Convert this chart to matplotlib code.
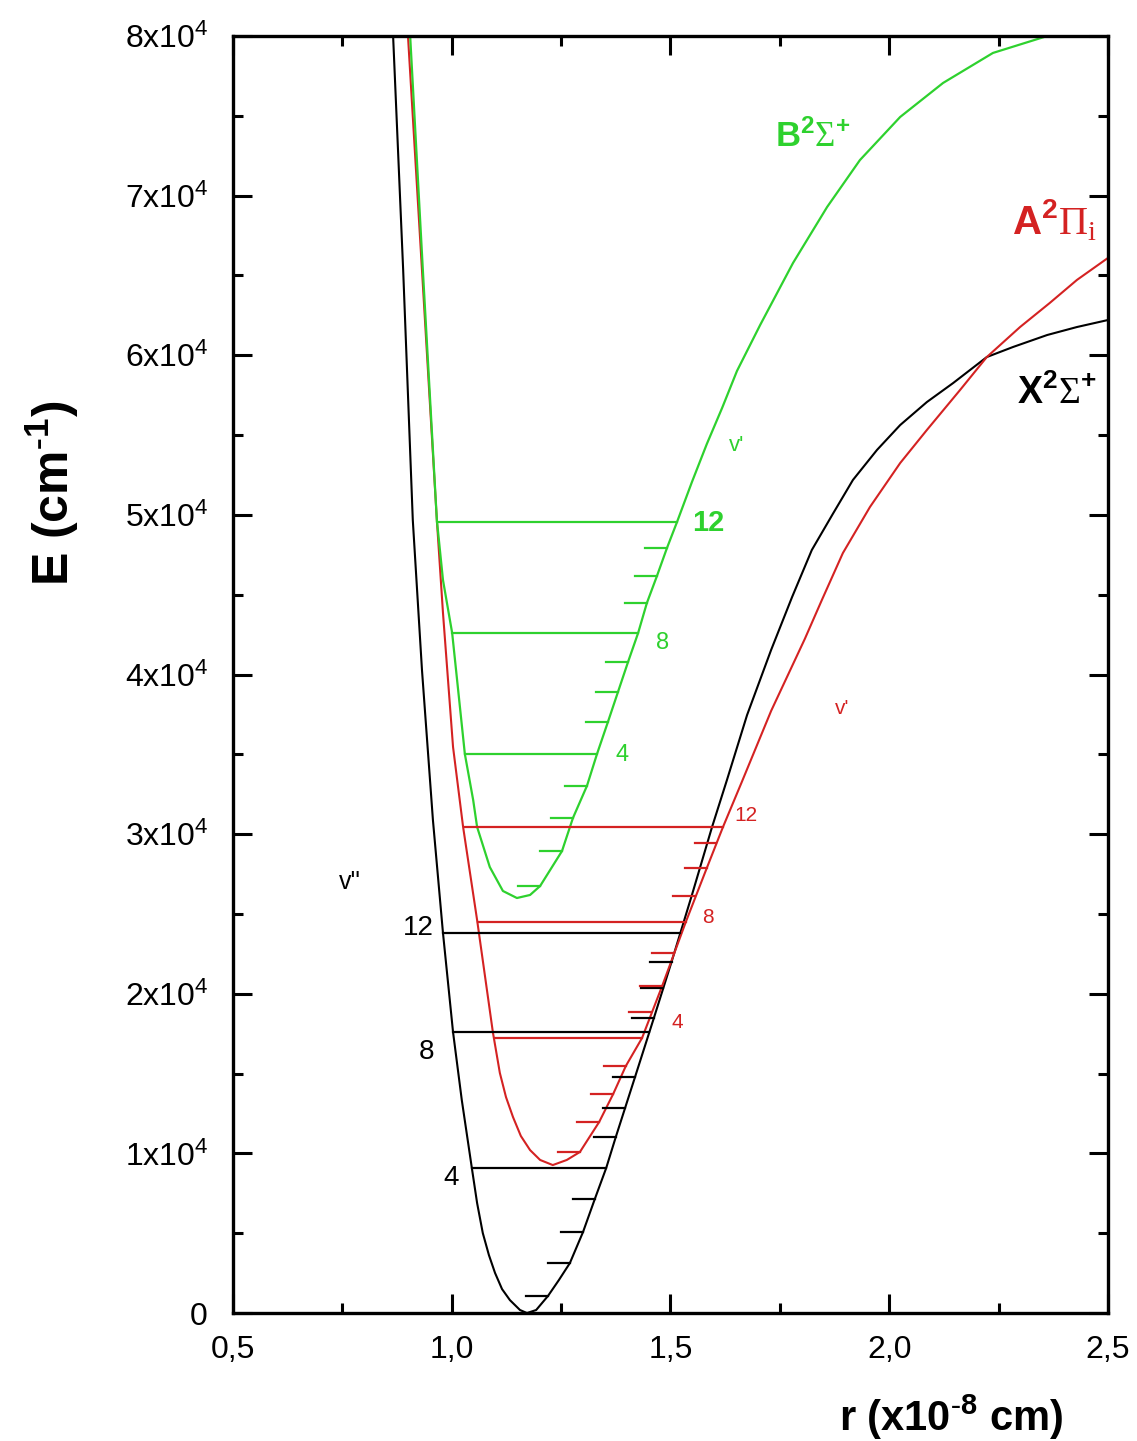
import matplotlib
matplotlib.use("Agg")
import matplotlib.pyplot as plt
from matplotlib.ticker import MultipleLocator

plt.rcParams['font.family'] = ['Liberation Sans', 'DejaVu Sans']
plt.rcParams['mathtext.fontset'] = 'custom'
plt.rcParams['mathtext.rm'] = 'Liberation Serif'
plt.rcParams['mathtext.it'] = 'Liberation Serif:italic'
plt.rcParams['mathtext.bf'] = 'Liberation Sans:bold'
plt.rcParams['mathtext.sf'] = 'Liberation Sans'
plt.rcParams['mathtext.default'] = 'regular'

# potential curves, r in 1e-8 cm, E in cm-1
x_r = [0.866, 0.889, 0.911, 0.932, 0.957, 0.980, 1.003, 1.023, 1.046, 1.058, 1.071, 1.085,
       1.099, 1.115, 1.133, 1.156, 1.172, 1.193, 1.220, 1.245, 1.270, 1.300, 1.327, 1.353,
       1.375, 1.419, 1.462, 1.503, 1.549, 1.595, 1.629, 1.675, 1.730, 1.778, 1.823, 1.871,
       1.917, 1.972, 2.025, 2.086, 2.146, 2.223, 2.283, 2.361, 2.429, 2.500]
x_E = [80000, 65340, 49680, 40280, 30890, 23810, 17600, 13340, 9080, 6890, 5010, 3630,
       2510, 1500, 810, 190, 0, 190, 1070, 2070, 3130, 5070, 7140, 9080,
       11030, 14790, 18480, 22050, 26190, 30450, 33390, 37460, 41540, 44860, 47800, 50060,
       52190, 54070, 55630, 57070, 58260, 59890, 60520, 61270, 61770, 62210]

a_r = [0.900, 0.932, 0.966, 0.980, 1.003, 1.026, 1.058, 1.094, 1.110, 1.124, 1.140, 1.158,
       1.179, 1.202, 1.231, 1.263, 1.293, 1.337, 1.369, 1.398, 1.435, 1.481, 1.535, 1.583,
       1.620, 1.663, 1.730, 1.807, 1.846, 1.894, 1.956, 2.025, 2.086, 2.162, 2.223, 2.299,
       2.367, 2.429, 2.500]
a_E = [80000, 65340, 49680, 43860, 35460, 30450, 24620, 17600, 15040, 13530, 12280, 11090,
       10210, 9590, 9270, 9590, 10090, 11970, 13720, 15480, 17230, 20490, 24500, 27880,
       30450, 33270, 37720, 42230, 44670, 47610, 50500, 53250, 55320, 57830, 59890, 61770,
       63280, 64720, 66100]

b_r = [0.905, 0.934, 0.966, 0.980, 1.001, 1.030, 1.049, 1.058, 1.087, 1.117, 1.149, 1.179,
       1.202, 1.252, 1.277, 1.309, 1.332, 1.357, 1.380, 1.403, 1.426, 1.446, 1.469, 1.492,
       1.515, 1.549, 1.583, 1.618, 1.652, 1.705, 1.780, 1.858, 1.933, 2.025, 2.123, 2.237,
       2.361]
b_E = [80000, 65340, 49680, 45920, 42600, 35020, 32140, 30450, 27940, 26440, 26000, 26190,
       26750, 28940, 31010, 33020, 35020, 37030, 38910, 40790, 42600, 44480, 46170, 47930,
       49560, 52060, 54440, 56700, 59020, 61900, 65780, 69290, 72230, 74930, 77060, 78940,
       80000]

# vibrational levels v = 0..12: energy and outer turning point
x_lev_E = [1070, 3110, 5090, 7120, 9100, 11050, 12860, 14800, 17620, 18460, 20340, 22010, 23790]
x_lev_r = [1.220, 1.270, 1.300, 1.327, 1.353, 1.375, 1.396, 1.419, 1.452, 1.462, 1.483, 1.503, 1.522]
x_full_left = {4: 1.046, 8: 1.003, 12: 0.980}

a_lev_E = [10110, 11980, 13720, 15480, 17210, 18840, 20490, 22540, 24510, 26130, 27860, 29430, 30430]
a_lev_r = [1.293, 1.337, 1.369, 1.398, 1.435, 1.456, 1.481, 1.508, 1.535, 1.556, 1.583, 1.605, 1.620]
a_full_left = {4: 1.099, 8: 1.060, 12: 1.030}

b_lev_E = [26750, 28940, 30990, 33040, 35020, 37010, 38920, 40800, 42580, 44460, 46170, 47910, 49580]
b_lev_r = [1.202, 1.252, 1.277, 1.309, 1.332, 1.357, 1.380, 1.403, 1.426, 1.446, 1.469, 1.492, 1.515]
b_full_left = {4: 1.030, 8: 1.001, 12: 0.966}

x_ticks = [0.5, 1.0, 1.5, 2.0, 2.5]
x_ticklabels = ['0,5', '1,0', '1,5', '2,0', '2,5']
y_ticks = [0, 10000, 20000, 30000, 40000, 50000, 60000, 70000, 80000]
y_ticklabels = ['0'] + ['$%dx10^{4}$' % k for k in range(1, 9)]

black = 'black'
red = '#d42222'
green = '#2ed12e'
tick_len = 0.05

fig = plt.figure(figsize=(11.37, 14.41), dpi=100)
ax = fig.add_axes([0.2049, 0.0888, 0.7696, 0.8862])


def draw_levels(lev_E, lev_r, full_left, color):
    for v in range(len(lev_E)):
        left = full_left.get(v, lev_r[v] - tick_len)
        ax.plot([left, lev_r[v]], [lev_E[v], lev_E[v]], color=color, lw=1.6)


ax.plot(x_r, x_E, color=black, lw=1.5)
ax.plot(a_r, a_E, color=red, lw=1.5)
ax.plot(b_r, b_E, color=green, lw=1.6)
draw_levels(x_lev_E, x_lev_r, x_full_left, black)
draw_levels(a_lev_E, a_lev_r, a_full_left, red)
draw_levels(b_lev_E, b_lev_r, b_full_left, green)

# level numbers
ax.text(0.923, 24120, '12', color=black, fontsize=20, ha='center', va='center')
ax.text(0.943, 16350, '8', color=black, fontsize=20, ha='center', va='center')
ax.text(0.998, 8460, '4', color=black, fontsize=20, ha='center', va='center')
ax.text(0.767, 27000, "v''", color=black, fontsize=18, ha='center', va='center')

ax.text(1.586, 49490, '12', color=green, fontsize=21, fontweight='bold', ha='center', va='center')
ax.text(1.483, 41980, '8', color=green, fontsize=17, ha='center', va='center')
ax.text(1.389, 34960, '4', color=green, fontsize=17, ha='center', va='center')
ax.text(1.652, 54320, "v'", color=green, fontsize=16, ha='center', va='center')

ax.text(1.673, 31200, '12', color=red, fontsize=15, ha='center', va='center')
ax.text(1.586, 24810, '8', color=red, fontsize=15, ha='center', va='center')
ax.text(1.515, 18230, '4', color=red, fontsize=15, ha='center', va='center')
ax.text(1.892, 37900, "v'", color=red, fontsize=15, ha='center', va='center')

# state labels
ax.text(1.739, 73680, r'$\mathbf{B}^{2}\mathrm{\Sigma}^{+}$', color=green, fontsize=25,
        fontweight='bold', ha='left', va='center')
ax.text(2.281, 68480, r'$\mathbf{A}^{2}\mathrm{\Pi}_{\mathrm{i}}$', color=red, fontsize=29,
        fontweight='bold', ha='left', va='center')
ax.text(2.292, 57640, r'$\mathbf{X}^{2}\mathrm{\Sigma}^{+}$', color=black, fontsize=27,
        fontweight='bold', ha='left', va='center')

ax.set_xlim(0.5, 2.5)
ax.set_ylim(0, 80000)
ax.set_xticks(x_ticks)
ax.set_xticklabels(x_ticklabels)
ax.set_yticks(y_ticks)
ax.set_yticklabels(y_ticklabels)
ax.xaxis.set_minor_locator(MultipleLocator(0.25))
ax.yaxis.set_minor_locator(MultipleLocator(5000))
ax.tick_params(which='both', direction='in', top=True, right=True, width=2.2)
ax.tick_params(which='major', length=14)
ax.tick_params(which='minor', length=7)
ax.tick_params(axis='x', which='major', labelsize=23, pad=16)
ax.tick_params(axis='y', which='major', labelsize=23, pad=18)
for s in ax.spines.values():
    s.set_linewidth(2.4)

ax.set_xlabel(r'r (x10$^{\text{-}8}$ cm)', fontsize=30, fontweight='bold', va='center')
ax.xaxis.set_label_coords(0.8206, -0.082)
ax.set_ylabel(r'E (cm$^{\text{-}1}$)', fontsize=36, fontweight='bold', va='center')
ax.yaxis.set_label_coords(-0.207, 0.642)

fig.savefig('out.png', dpi=100)
